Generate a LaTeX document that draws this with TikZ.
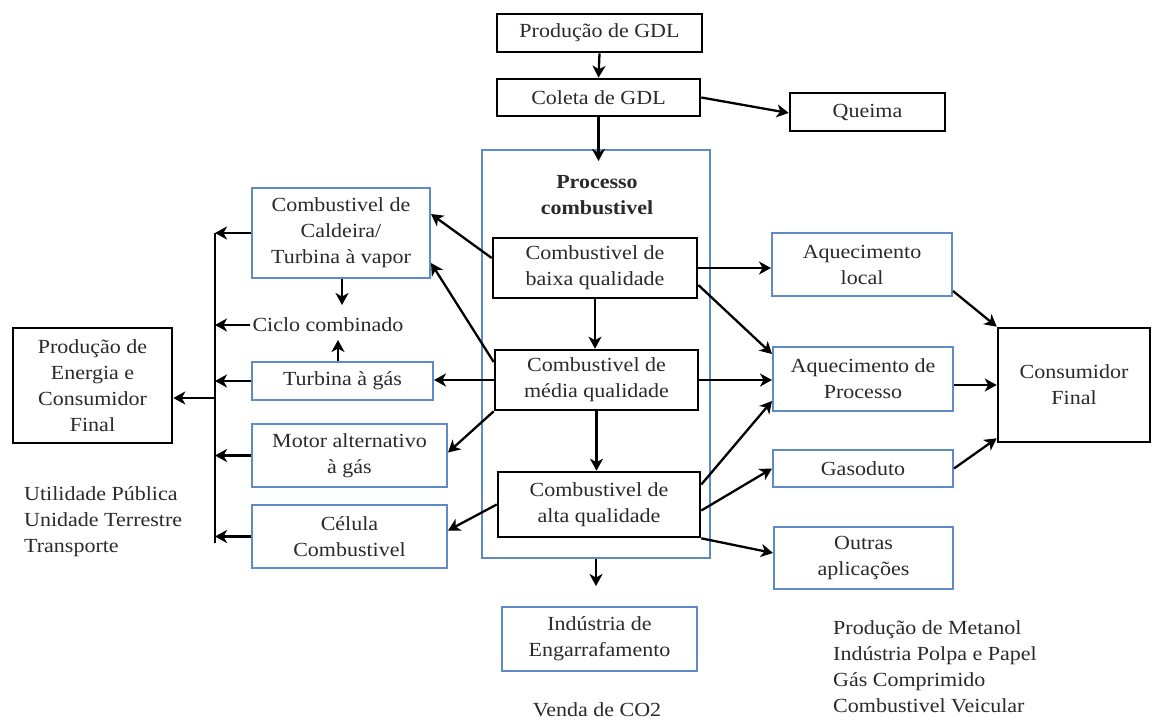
\documentclass[tikz,border=0pt]{standalone}
\usepackage{fontspec}
\setmainfont{Liberation Serif}[FakeStretch=1.1]
\usetikzlibrary{arrows.meta}
\definecolor{bl}{HTML}{5E8AC7}
\definecolor{tx}{HTML}{2A2A2A}
\begin{document}
\begin{tikzpicture}[x=1pt,y=-1pt,
  font=\fontsize{20}{26}\selectfont,
  bk/.style={draw=black, line width=2.6pt, align=center, text=tx, inner sep=2pt},
  bb/.style={draw=bl, line width=2pt, align=center, text=tx, inner sep=2pt},
  lbl/.style={align=center, text=tx, inner sep=2pt},
  arr/.style={line width=2.3pt, -{Stealth[length=12pt,width=13pt,inset=3.5pt]}},
  ln/.style={line width=2.3pt}]
\fill[white] (0,0) rectangle (1155,724);
\useasboundingbox (0,0) rectangle (1155,724);

% top
\node[bk, minimum width=205, minimum height=38] (prod) at (599.5,33) {Produção de GDL};
\node[bk, minimum width=203, minimum height=37] (coleta) at (598.5,97.5) {Coleta de GDL};
\node[bk, minimum width=155, minimum height=38] (queima) at (867.5,112) {Queima};

% process
\node[bb, minimum width=228, minimum height=408] (proc) at (596,354) {};
\node[lbl, font=\fontsize{20}{26}\selectfont\bfseries] (proct) at (597,195) {Processo\\combustivel};
\node[bk, minimum width=204, minimum height=60] (baixa) at (595,268) {Combustivel de\\baixa qualidade};
\node[bk, minimum width=203, minimum height=60] (media) at (596.5,380) {Combustivel de\\média qualidade};
\node[bk, minimum width=202, minimum height=65] (alta) at (599,504.5) {Combustivel de\\alta qualidade};
\node[bb, minimum width=195, minimum height=64] (engarr) at (599.5,639) {Indústria de\\Engarrafamento};
\node[lbl] (venda) at (597,710) {Venda de CO2};

% left
\node[bb, minimum width=178, minimum height=90] (caldeira) at (341,233) {Combustivel de\\Caldeira/\\Turbina à vapor};
\node[lbl] (ciclo) at (328,325) {Ciclo combinado};
\node[bb, minimum width=181, minimum height=38] (turbina) at (342.5,381) {Turbina à gás};
\node[bb, minimum width=195, minimum height=63] (motor) at (349.5,455.5) {Motor alternativo\\à gás};
\node[bb, minimum width=195, minimum height=63] (celula) at (349.5,536.5) {Célula\\Combustivel};
\node[bk, minimum width=159, minimum height=115] (energia) at (92.5,385.5) {Produção de\\Energia e\\Consumidor\\Final};
\node[lbl, align=left, anchor=west] (util) at (22,522) {Utilidade Pública\\Unidade Terrestre\\Transporte};

% right
\node[bb, minimum width=180, minimum height=63] (aqlocal) at (862,264.5) {Aquecimento\\local};
\node[bb, minimum width=180, minimum height=64] (aqproc) at (863,379) {Aquecimento de\\Processo};
\node[bb, minimum width=180, minimum height=37] (gasoduto) at (863,468.5) {Gasoduto};
\node[bb, minimum width=179, minimum height=62] (outras) at (863.5,558) {Outras\\aplicações};
\node[bk, minimum width=152, minimum height=114] (consumidor) at (1074,385) {Consumidor\\Final};
\node[lbl, align=left, anchor=west] (usos) at (831,667) {Produção de Metanol\\Indústria Polpa e Papel\\Gás Comprimido\\Combustivel Veicular};

% coordinates
\coordinate (busT) at (215,233);
\coordinate (busB) at (215,543);
\coordinate (busE) at (215,398);
\coordinate (cc1) at (342,305);
\coordinate (cc2) at (338,340);

% top arrows
\draw[arr] (prod.south) -- (coleta.north);
\draw[arr] (coleta.south) -- ([yshift=-12pt]proc.north -| coleta.south);
\draw[arr] (coleta.east) -- ([yshift=-1pt]queima.west);

% centre column
\draw[arr] (baixa.south) -- (media.north -| baixa.south);
\draw[arr] (media.south) -- (alta.north -| media.south);
\draw[arr] (proc.south) -- ([yshift=-27pt]proc.south);

% left arrows
\draw[arr] ([yshift=10pt]baixa.west) -- ([yshift=19pt]caldeira.east);
\draw[arr] ([yshift=18pt]media.west) -- ([yshift=-30pt]caldeira.east);
\draw[arr] (media.west) -- (media.west -| turbina.east);
\draw[arr] (media.south west) -- ([yshift=3pt]motor.east);
\draw[arr] (alta.west) -- ([yshift=6pt]celula.east);
\draw[arr] (caldeira.south -| cc1) -- (cc1);
\draw[arr] (turbina.north -| cc2) -- (cc2);

% bus
\draw[ln] (busT) -- (busB);
\draw[arr] (caldeira.west) -- (caldeira.west -| busT);
\draw[arr] (ciclo.west) -- (ciclo.west -| busT);
\draw[arr] (turbina.west) -- (turbina.west -| busT);
\draw[arr] (motor.west) -- (motor.west -| busT);
\draw[arr] (celula.west) -- (celula.west -| busT);
\draw[arr] (busE) -- (busE -| energia.east);

% right arrows
\draw[arr] (baixa.east) -- (baixa.east -| aqlocal.west);
\draw[arr] ([yshift=-17pt]baixa.east) -- ([yshift=-8pt]aqproc.north west);
\draw[arr] (media.east) -- (media.east -| aqproc.west);
\draw[arr] ([yshift=20pt]alta.east) -- ([yshift=11pt]aqproc.south west);
\draw[arr] ([yshift=-6pt]alta.east) -- (gasoduto.west);
\draw[arr] (alta.south east) -- ([yshift=5pt]outras.west);
\draw[arr] ([yshift=6pt]aqlocal.south east) -- (consumidor.north west);
\draw[arr] (aqproc.east |- consumidor.west) -- (consumidor.west);
\draw[arr] (gasoduto.east) -- ([yshift=5pt]consumidor.south west);
\end{tikzpicture}
\end{document}
